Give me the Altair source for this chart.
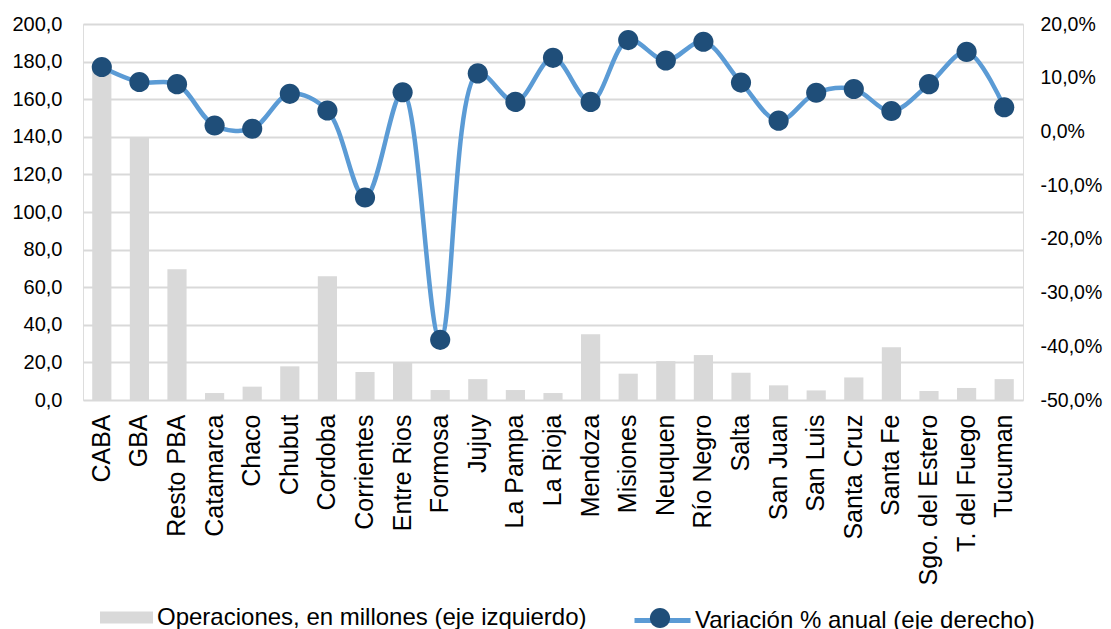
import altair as alt
import pandas as pd

provincias = ["CABA", "GBA", "Resto PBA", "Catamarca", "Chaco", "Chubut", "Cordoba",
              "Corrientes", "Entre Rios", "Formosa", "Jujuy", "La Pampa", "La Rioja",
              "Mendoza", "Misiones", "Neuquen", "Río Negro", "Salta", "San Juan",
              "San Luis", "Santa Cruz", "Santa Fe", "Sgo. del Estero", "T. del Fuego", "Tucuman"]
operaciones = [176.0, 139.5, 69.5, 3.7, 7.1, 17.9, 65.8, 14.9, 20.0, 5.3, 11.1, 5.3, 3.7,
               35.0, 14.0, 20.7, 23.9, 14.5, 7.8, 5.1, 12.0, 28.0, 4.8, 6.4, 11.1]
variacion = [0.120, 0.092, 0.088, 0.011, 0.005, 0.070, 0.039, -0.123, 0.073, -0.388,
             0.108, 0.055, 0.137, 0.055, 0.170, 0.132, 0.167, 0.091, 0.020, 0.072,
             0.079, 0.038, 0.088, 0.148, 0.045]
serie_barras = "Operaciones, en millones (eje izquierdo)"
serie_linea = "Variación % anual (eje derecho)"

df = pd.DataFrame({
    "prov": provincias,
    "ops": operaciones,
    "var": variacion,
    "sb": serie_barras,
    "sl": serie_linea,
})

FONT = "Liberation Sans"
GRAY = "#D9D9D9"
LBLUE = "#5B9BD5"
DBLUE = "#1F4E79"
CIRCLE = "M-0.36,0A0.36,0.36,0,1,1,0.36,0A0.36,0.36,0,1,1,-0.36,0Z"

x = alt.X("prov:N", sort=provincias, title=None,
          scale=alt.Scale(paddingInner=0.49, paddingOuter=0.245),
          axis=alt.Axis(labelAngle=270, labelFontSize=25, labelColor="#000000",
                        labelPadding=14, ticks=False, domain=False, grid=False,
                        labelFont=FONT))

base = alt.Chart(df)

bars = base.mark_bar().encode(
    x=x,
    y=alt.Y("ops:Q", title=None,
            scale=alt.Scale(domain=[0, 200], nice=False),
            axis=alt.Axis(values=list(range(0, 201, 20)), orient="left",
                          labelExpr="replace(format(datum.value, '.1f'), '.', ',')",
                          labelFontSize=20, labelColor="#000000", labelPadding=21,
                          ticks=False, domain=False, grid=True, gridColor=GRAY,
                          gridWidth=1.8, labelFont=FONT)),
    fill=alt.Fill("sb:N", scale=alt.Scale(range=[GRAY]),
                  legend=alt.Legend(orient="none", legendX=17, legendY=567, title=None,
                                    symbolType="M-1,-0.23H1V0.23H-1Z", symbolSize=2809,
                                    symbolStrokeWidth=0, labelFontSize=24, labelFont=FONT,
                                    labelColor="#000000", labelOffset=4, padding=0,
                                    labelLimit=700)),
)

line = base.mark_line(strokeWidth=4.5, interpolate="catmull-rom").encode(
    x=x,
    y=alt.Y("var:Q", title=None,
            scale=alt.Scale(domain=[-0.5, 0.2], nice=False),
            axis=alt.Axis(values=[-0.5, -0.4, -0.3, -0.2, -0.1, 0, 0.1, 0.2], orient="right",
                          labelExpr="replace(replace(format(datum.value, '.1%'), '.', ','), '\u2212', '-')",
                          labelFontSize=19.5, labelColor="#000000", labelPadding=17,
                          ticks=False, domain=False, grid=False, labelFont=FONT)),
    stroke=alt.Stroke("sl:N", scale=alt.Scale(range=[LBLUE]),
                      legend=alt.Legend(orient="none", legendX=549, legendY=566, title=None,
                                        symbolType="M-1,0H1", symbolSize=3136,
                                        symbolStrokeWidth=5, labelFontSize=24, labelFont=FONT,
                                        labelColor="#000000", labelOffset=2, padding=0,
                                        labelLimit=700)),
)

points = base.mark_point(filled=True, size=3136, opacity=1, color=DBLUE).encode(
    x=x,
    y=alt.Y("var:Q", scale=alt.Scale(domain=[-0.5, 0.2], nice=False), axis=None),
    shape=alt.Shape("sl:N", scale=alt.Scale(range=[CIRCLE]),
                    legend=alt.Legend(orient="none", legendX=549, legendY=566, title=None,
                                      symbolSize=3136, symbolFillColor=DBLUE,
                                      symbolStrokeWidth=0, labelExpr="''",
                                      labelFontSize=24, labelFont=FONT, padding=0)),
)

chart = alt.layer(bars, line, points).resolve_scale(
    y="independent", shape="independent", stroke="independent", fill="independent"
).properties(
    width=940, height=376,
    autosize=alt.AutoSizeParams(type="none"),
    padding={"left": 75, "top": 16, "right": 80, "bottom": 250},
).configure_view(stroke=None).configure(font=FONT, background="#ffffff")

chart.save("out.html", embed_options={"renderer": "svg", "actions": False})
